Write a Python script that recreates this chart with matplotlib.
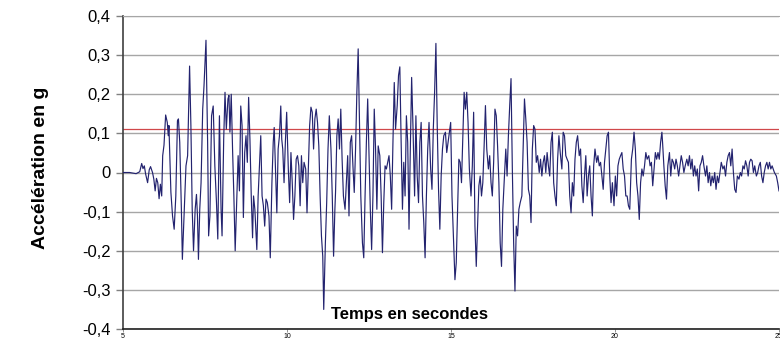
import numpy as np
import matplotlib.pyplot as plt

plt.rcParams['font.family'] = ['Liberation Sans', 'DejaVu Sans']

# accelerogram, (time in s, acceleration in g)
phase_1 = [(5.00, 0.0), (5.20, 0.0), (5.40, -0.003), (5.51, 0.002), (5.57, 0.023),
           (5.61, 0.01), (5.65, 0.017), (5.69, -0.004), (5.75, -0.026), (5.80, 0.007),
           (5.84, 0.015), (5.90, 0.0), (5.94, -0.017), (5.98, -0.047), (6.02, -0.015),
           (6.06, -0.026), (6.10, -0.067), (6.14, -0.03), (6.18, -0.06), (6.21, 0.043),
           (6.25, 0.07), (6.30, 0.147), (6.35, 0.128), (6.38, 0.094), (6.40, 0.12),
           (6.46, -0.05), (6.51, -0.111), (6.56, -0.145), (6.61, -0.06), (6.66, 0.132),
           (6.69, 0.137), (6.73, 0.077), (6.78, -0.094), (6.81, -0.222), (6.86, -0.111),
           (6.92, 0.017), (6.97, 0.043), (7.00, 0.162), (7.03, 0.272), (7.07, 0.12),
           (7.11, -0.094), (7.15, -0.2), (7.20, -0.094), (7.24, -0.056), (7.27, -0.111),
           (7.30, -0.222), (7.34, -0.094), (7.38, -0.026), (7.43, 0.162), (7.47, 0.222),
           (7.53, 0.338), (7.58, 0.077), (7.61, -0.162), (7.65, -0.111), (7.70, 0.145),
           (7.75, 0.17), (7.80, 0.017), (7.85, -0.077), (7.89, -0.17), (7.94, 0.145),
           (7.99, -0.094), (8.02, -0.162), (8.07, 0.085), (8.11, 0.205), (8.15, 0.111),
           (8.20, 0.188)]

phase_2 = [(8.23, 0.197), (8.26, 0.103), (8.30, 0.2), (8.34, 0.06), (8.38, -0.06),
           (8.42, -0.2), (8.47, -0.06), (8.51, 0.043), (8.55, -0.047), (8.59, 0.17),
           (8.63, 0.12), (8.67, -0.115), (8.71, 0.051), (8.75, 0.094), (8.79, 0.026),
           (8.83, 0.192), (8.87, 0.085), (8.91, -0.06), (8.95, -0.167), (8.98, -0.06),
           (9.02, -0.094), (9.08, -0.197), (9.12, -0.06), (9.16, 0.017), (9.20, 0.094),
           (9.24, -0.06), (9.28, -0.085), (9.32, -0.137), (9.36, -0.068), (9.40, -0.077),
           (9.45, -0.111), (9.49, -0.218), (9.54, -0.026), (9.58, 0.077), (9.61, 0.115),
           (9.65, 0.009), (9.69, -0.103), (9.73, 0.06), (9.77, 0.094), (9.81, 0.17),
           (9.84, 0.085), (9.87, 0.06), (9.91, -0.026), (9.95, 0.077), (9.99, 0.154),
           (10.04, 0.009), (10.08, -0.077), (10.12, 0.051), (10.16, -0.026), (10.20, -0.12),
           (10.24, -0.06), (10.28, 0.034), (10.32, 0.043), (10.36, 0.017), (10.40, -0.085),
           (10.44, 0.043), (10.48, -0.026), (10.52, 0.026), (10.57, 0.009), (10.61, -0.103),
           (10.65, 0.009), (10.69, 0.12), (10.73, 0.167), (10.77, 0.154), (10.81, 0.06),
           (10.85, 0.137), (10.89, 0.162), (10.93, 0.128), (10.97, 0.068), (11.01, -0.06),
           (11.05, -0.162), (11.09, -0.214), (11.12, -0.35), (11.17, -0.18), (11.21, -0.077),
           (11.25, 0.06), (11.29, 0.145), (11.34, 0.06), (11.38, -0.06), (11.42, -0.214),
           (11.46, -0.094)]

phase_3 = [(11.48, -0.05), (11.52, 0.094), (11.56, 0.137), (11.60, 0.06), (11.64, 0.162),
           (11.68, 0.034), (11.72, -0.06), (11.77, -0.094), (11.81, -0.026), (11.85, 0.043),
           (11.89, -0.111), (11.93, 0.077), (11.97, 0.094), (12.01, 0.017), (12.05, -0.051),
           (12.09, 0.06), (12.13, 0.205), (12.17, 0.316), (12.21, 0.12), (12.25, -0.06),
           (12.30, -0.18), (12.34, -0.218), (12.38, -0.06), (12.42, 0.077), (12.46, 0.188),
           (12.50, 0.043), (12.54, -0.094), (12.58, -0.197), (12.62, -0.06), (12.66, 0.162),
           (12.70, 0.06), (12.74, -0.094), (12.78, 0.068), (12.83, 0.043), (12.87, -0.06),
           (12.91, -0.205), (12.95, -0.077), (12.99, 0.017), (13.03, 0.009), (13.07, 0.026),
           (13.11, 0.043), (13.15, -0.009), (13.19, -0.094), (13.23, 0.077), (13.27, 0.23),
           (13.31, 0.111), (13.36, 0.171), (13.40, 0.248), (13.44, 0.27), (13.48, 0.077),
           (13.52, -0.094), (13.56, 0.026), (13.60, -0.06), (13.64, 0.145), (13.68, 0.077),
           (13.72, -0.145), (13.76, 0.06), (13.80, 0.243), (13.84, 0.12), (13.89, -0.06),
           (13.93, 0.145), (13.97, -0.009), (14.01, -0.077), (14.05, 0.077), (14.09, 0.128),
           (14.13, -0.06), (14.17, -0.128), (14.21, -0.218), (14.25, -0.06), (14.29, 0.06),
           (14.33, 0.128), (14.38, 0.009), (14.42, -0.043), (14.46, 0.111), (14.50, 0.205),
           (14.54, 0.33), (14.58, 0.12), (14.62, -0.043), (14.66, -0.145), (14.70, -0.009),
           (14.74, 0.06), (14.78, 0.094)]

phase_4 = [(14.83, 0.103), (14.87, 0.051), (14.91, 0.077), (14.95, 0.103), (14.99, 0.128),
           (15.03, -0.06), (15.08, -0.18), (15.12, -0.274), (15.16, -0.231), (15.20, -0.094),
           (15.24, 0.034), (15.28, 0.026), (15.32, -0.026), (15.36, 0.094), (15.40, 0.205),
           (15.44, 0.162), (15.48, 0.205), (15.52, 0.128), (15.56, 0.009), (15.61, -0.06),
           (15.65, 0.017), (15.69, 0.154), (15.73, -0.137), (15.77, -0.24), (15.81, -0.137),
           (15.85, -0.034), (15.89, -0.009), (15.93, -0.06), (15.97, -0.026), (16.01, 0.068),
           (16.05, 0.171), (16.09, 0.06), (16.14, 0.009), (16.18, 0.043), (16.22, -0.026),
           (16.26, -0.06), (16.30, 0.026), (16.34, 0.162), (16.38, 0.145), (16.42, 0.068),
           (16.46, -0.026), (16.50, -0.18), (16.54, -0.24), (16.58, -0.094), (16.62, -0.026),
           (16.67, 0.06), (16.71, -0.009), (16.75, 0.094), (16.79, 0.171), (16.83, 0.24),
           (16.87, 0.009), (16.91, -0.18), (16.95, -0.303), (16.99, -0.137), (17.03, -0.162),
           (17.07, -0.094), (17.11, -0.077), (17.16, -0.06), (17.20, 0.06), (17.24, 0.188),
           (17.28, 0.137), (17.32, 0.077), (17.36, -0.043), (17.40, -0.06), (17.44, -0.128),
           (17.48, 0.06), (17.52, 0.12), (17.56, 0.111), (17.60, 0.026), (17.64, 0.043),
           (17.69, 0.0), (17.73, 0.034), (17.77, -0.009), (17.81, 0.026), (17.85, 0.043),
           (17.89, 0.0), (17.93, 0.051), (17.97, 0.017), (18.01, -0.009), (18.05, 0.077),
           (18.09, 0.103)]

phase_5 = [(18.13, -0.026), (18.17, -0.06), (18.21, -0.085), (18.25, 0.034), (18.29, 0.094),
           (18.33, 0.051), (18.38, 0.009), (18.42, 0.103), (18.46, 0.094), (18.50, 0.043),
           (18.54, 0.034), (18.58, 0.026), (18.62, -0.06), (18.66, -0.103), (18.70, -0.026),
           (18.74, -0.06), (18.78, 0.034), (18.82, 0.077), (18.86, 0.094), (18.91, 0.043),
           (18.95, 0.06), (18.99, -0.034), (19.03, -0.077), (19.07, -0.009), (19.11, 0.043),
           (19.15, -0.06), (19.19, -0.009), (19.23, 0.017), (19.27, -0.06), (19.31, -0.111),
           (19.35, 0.017), (19.39, 0.06), (19.44, 0.026), (19.48, 0.043), (19.52, 0.017),
           (19.56, 0.026), (19.60, -0.009), (19.64, -0.043), (19.68, 0.026), (19.72, 0.06),
           (19.76, 0.094), (19.80, 0.103), (19.84, -0.009), (19.88, -0.077), (19.92, -0.026),
           (19.97, -0.085), (20.01, -0.009), (20.05, -0.06), (20.09, 0.017), (20.13, 0.034),
           (20.17, 0.043), (20.21, 0.051), (20.25, 0.009), (20.29, -0.009), (20.33, -0.06),
           (20.37, -0.06), (20.41, -0.085), (20.45, -0.094), (20.50, 0.034), (20.54, 0.06),
           (20.58, 0.103), (20.62, 0.06), (20.66, -0.026), (20.70, -0.06), (20.74, -0.12),
           (20.78, -0.026), (20.82, 0.009), (20.86, -0.009), (20.90, 0.017), (20.94, 0.051),
           (20.98, 0.034), (21.03, 0.043), (21.07, 0.017), (21.11, 0.026), (21.15, -0.034),
           (21.19, 0.009), (21.23, 0.051), (21.27, 0.034), (21.31, 0.051), (21.35, 0.034),
           (21.39, 0.077), (21.43, 0.103)]

phase_6 = [(21.45, 0.077), (21.49, 0.017), (21.53, -0.034), (21.57, -0.068), (21.61, 0.017),
           (21.66, 0.051), (21.70, -0.009), (21.74, 0.034), (21.78, 0.026), (21.82, 0.009),
           (21.86, 0.034), (21.90, 0.017), (21.94, -0.009), (21.98, 0.017), (22.02, 0.043),
           (22.06, 0.026), (22.10, 0.0), (22.14, 0.017), (22.19, 0.034), (22.23, 0.017),
           (22.27, 0.043), (22.31, 0.009), (22.35, 0.034), (22.39, -0.009), (22.43, 0.017),
           (22.47, -0.009), (22.51, 0.009), (22.55, -0.047), (22.59, 0.017), (22.63, 0.026),
           (22.67, 0.043), (22.71, 0.017), (22.76, -0.009), (22.80, 0.017), (22.84, -0.026),
           (22.88, 0.0), (22.92, -0.034), (22.96, -0.009), (23.00, -0.026), (23.04, 0.0),
           (23.08, -0.043), (23.12, -0.009), (23.16, -0.026), (23.20, 0.0), (23.24, 0.026),
           (23.29, 0.009), (23.33, 0.017), (23.37, -0.009), (23.41, 0.026), (23.45, 0.043),
           (23.49, 0.051), (23.53, 0.017), (23.57, 0.06), (23.61, 0.0), (23.65, -0.043),
           (23.69, -0.051), (23.73, -0.009), (23.78, -0.017), (23.82, 0.0), (23.86, -0.009),
           (23.90, 0.017), (23.94, 0.009), (23.98, 0.03), (24.02, 0.017), (24.06, -0.009),
           (24.10, 0.026), (24.14, 0.034), (24.18, 0.03), (24.22, 0.0), (24.26, 0.017),
           (24.31, -0.009), (24.35, 0.0), (24.39, 0.017), (24.43, 0.026), (24.47, -0.009),
           (24.51, -0.026), (24.55, 0.0), (24.59, 0.017), (24.63, 0.026), (24.67, 0.009),
           (24.71, 0.026), (24.75, 0.009), (24.79, 0.017), (24.86, 0.0), (24.92, -0.009),
           (24.96, -0.026), (25.00, -0.047)]

seuil = 0.112  # red threshold line

y_ticks = [-0.4, -0.3, -0.2, -0.1, 0.0, 0.1, 0.2, 0.3, 0.4]
y_tick_labels = ['-0,4', '-0,3', '-0,2', '-0,1', '0', '0,1', '0,2', '0,3', '0,4']
x_ticks = [5, 10, 15, 20, 25]

data = np.array(phase_1 + phase_2 + phase_3 + phase_4 + phase_5 + phase_6)
t, acc = data[:, 0], data[:, 1]

fig = plt.figure(figsize=(7.8, 3.4), dpi=100)
ax = fig.add_axes([123 / 780, 11 / 340, 656 / 780, 313 / 340])

ax.plot(t, acc, color='#23236f', lw=0.85, zorder=3)
ax.axhline(seuil, color='#d0474a', lw=0.9, zorder=2)

ax.set_xlim(5, 25)
ax.set_ylim(-0.4, 0.4)
ax.set_yticks(y_ticks)
ax.set_yticklabels(y_tick_labels)
ax.set_xticks(x_ticks)
ax.grid(axis='y', color='#a6a6a6', lw=1.0)
ax.set_axisbelow(True)

ax.tick_params(axis='y', direction='out', length=5, width=1, color='#808080',
               labelsize=12, pad=4)
ax.tick_params(axis='x', direction='out', length=2, width=0.6, color='#808080',
               labelsize=5, pad=1)

ax.spines['top'].set_color('#a6a6a6')
ax.spines['right'].set_visible(False)
ax.spines['left'].set_color('#404040')
ax.spines['left'].set_linewidth(1.2)
ax.spines['bottom'].set_color('#202020')
ax.spines['bottom'].set_linewidth(1.2)

ax.set_ylabel('Accélération en g', fontsize=14, fontweight='bold')
ax.yaxis.label.set_va('center')
ax.yaxis.set_label_coords(-0.1265, 0.516)

ax.set_xlabel('Temps en secondes', fontsize=12, fontweight='bold')
ax.xaxis.label.set_va('baseline')
ax.xaxis.set_label_coords(0.437, 0.032)

fig.savefig('out.png', dpi=100)
